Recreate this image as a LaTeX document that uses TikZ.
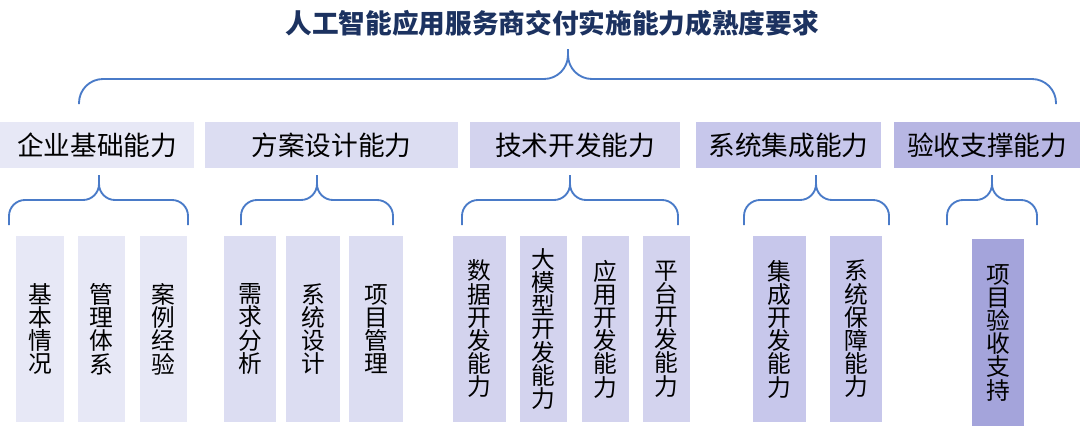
\documentclass[tikz,border=0pt]{standalone}
\usepackage{fontspec}
\setmainfont{Noto Sans CJK SC}
\definecolor{titleblue}{RGB}{28,50,96}
\definecolor{bracketblue}{RGB}{74,123,200}
\definecolor{capA}{RGB}{231,232,246}
\definecolor{capB}{RGB}{220,221,242}
\definecolor{capC}{RGB}{211,211,238}
\definecolor{capD}{RGB}{199,199,235}
\definecolor{capE}{RGB}{183,182,227}
\definecolor{itemE}{RGB}{164,164,219}
\begin{document}
\begin{tikzpicture}[x=0.75pt,y=-0.75pt,
  capbox/.style={minimum height=34.5pt, inner sep=0pt, font=\fontsize{20}{24}\selectfont},
  itembox/.style={minimum height=139.5pt, inner sep=0pt, align=center,
    font=\fontsize{17.8}{17.4}\selectfont},
  bracket/.style={draw=bracketblue, line width=1.4pt, rounded corners=12pt}]
\useasboundingbox (0,0) rectangle (1080,425);

% title
\node[font=\fontsize{20}{24}\selectfont\bfseries, text=titleblue] (title) at (552,23)
  {人工智能应用服务商交付实施能力成熟度要求};

% capabilities
\node[capbox, fill=capA, minimum width=145.5pt] (jichu) at (97,145) {企业基础能力};
\node[capbox, fill=capB, minimum width=189.75pt] (fangan) at (331.5,145) {方案设计能力};
\node[capbox, fill=capC, minimum width=157.5pt] (jishu) at (575,145) {技术开发能力};
\node[capbox, fill=capD, minimum width=138.75pt] (jicheng) at (788.5,145) {系统集成能力};
\node[capbox, fill=capE, minimum width=139.5pt] (yanshou) at (987,145) {验收支撑能力};

% items
\node[itembox, fill=capA, minimum width=36pt] (jiben) at (40,329) {基\\本\\情\\况};
\node[itembox, fill=capA, minimum width=35.25pt] (guanli) at (101.5,329) {管\\理\\体\\系};
\node[itembox, fill=capA, minimum width=35.25pt] (anli) at (163.5,329) {案\\例\\经\\验};

\node[itembox, fill=capB, minimum width=39pt] (xuqiu) at (250,329) {需\\求\\分\\析};
\node[itembox, fill=capB, minimum width=40pt] (sheji) at (313,329) {系\\统\\设\\计};
\node[itembox, fill=capB, minimum width=40pt] (xiangmu) at (376,329) {项\\目\\管\\理};

\node[itembox, fill=capC, minimum width=39.75pt] (shuju) at (479.5,329) {数\\据\\开\\发\\能\\力};
\node[itembox, fill=capC, minimum width=35.25pt] (damoxing) at (543.5,329) {大\\模\\型\\开\\发\\能\\力};
\node[itembox, fill=capC, minimum width=35.25pt] (yingyong) at (605.5,329) {应\\用\\开\\发\\能\\力};
\node[itembox, fill=capC, minimum width=35.25pt] (pingtai) at (666.5,329) {平\\台\\开\\发\\能\\力};

\node[itembox, fill=capD, minimum width=39.75pt] (jckf) at (779.5,329) {集\\成\\开\\发\\能\\力};
\node[itembox, fill=capD, minimum width=39pt] (baozhang) at (856,329) {系\\统\\保\\障\\能\\力};

\node[itembox, fill=itemE, minimum width=39pt, minimum height=140.25pt] (ysxm) at (998,332.5)
  {项\\目\\验\\收\\支\\持};

% brace under the title
\coordinate (t0) at (568,49);
\coordinate (k0) at (568,79);
\coordinate (l0) at (79,104);
\coordinate (r0) at (1056,104);
\draw[bracket, rounded corners=18pt] (l0) |- (k0) -- (t0);
\draw[bracket, rounded corners=18pt] (t0) -- (k0) -| (r0);

% braces under the capabilities
\coordinate (t1) at (99,175);  \coordinate (k1) at (99,200);
\coordinate (l1) at (9,225);   \coordinate (r1) at (188,225);
\coordinate (t2) at (317,175); \coordinate (k2) at (317,200);
\coordinate (l2) at (241,225); \coordinate (r2) at (393,225);
\coordinate (t3) at (570,175); \coordinate (k3) at (570,200);
\coordinate (l3) at (462,225); \coordinate (r3) at (678,225);
\coordinate (t4) at (816,175); \coordinate (k4) at (816,200);
\coordinate (l4) at (744,225); \coordinate (r4) at (889,225);
\coordinate (t5) at (992,175); \coordinate (k5) at (992,200);
\coordinate (l5) at (947,225); \coordinate (r5) at (1037,225);
\foreach \i in {1,...,5} {
  \draw[bracket] (l\i) |- (k\i) -- (t\i);
  \draw[bracket] (t\i) -- (k\i) -| (r\i);
}
\end{tikzpicture}
\end{document}
